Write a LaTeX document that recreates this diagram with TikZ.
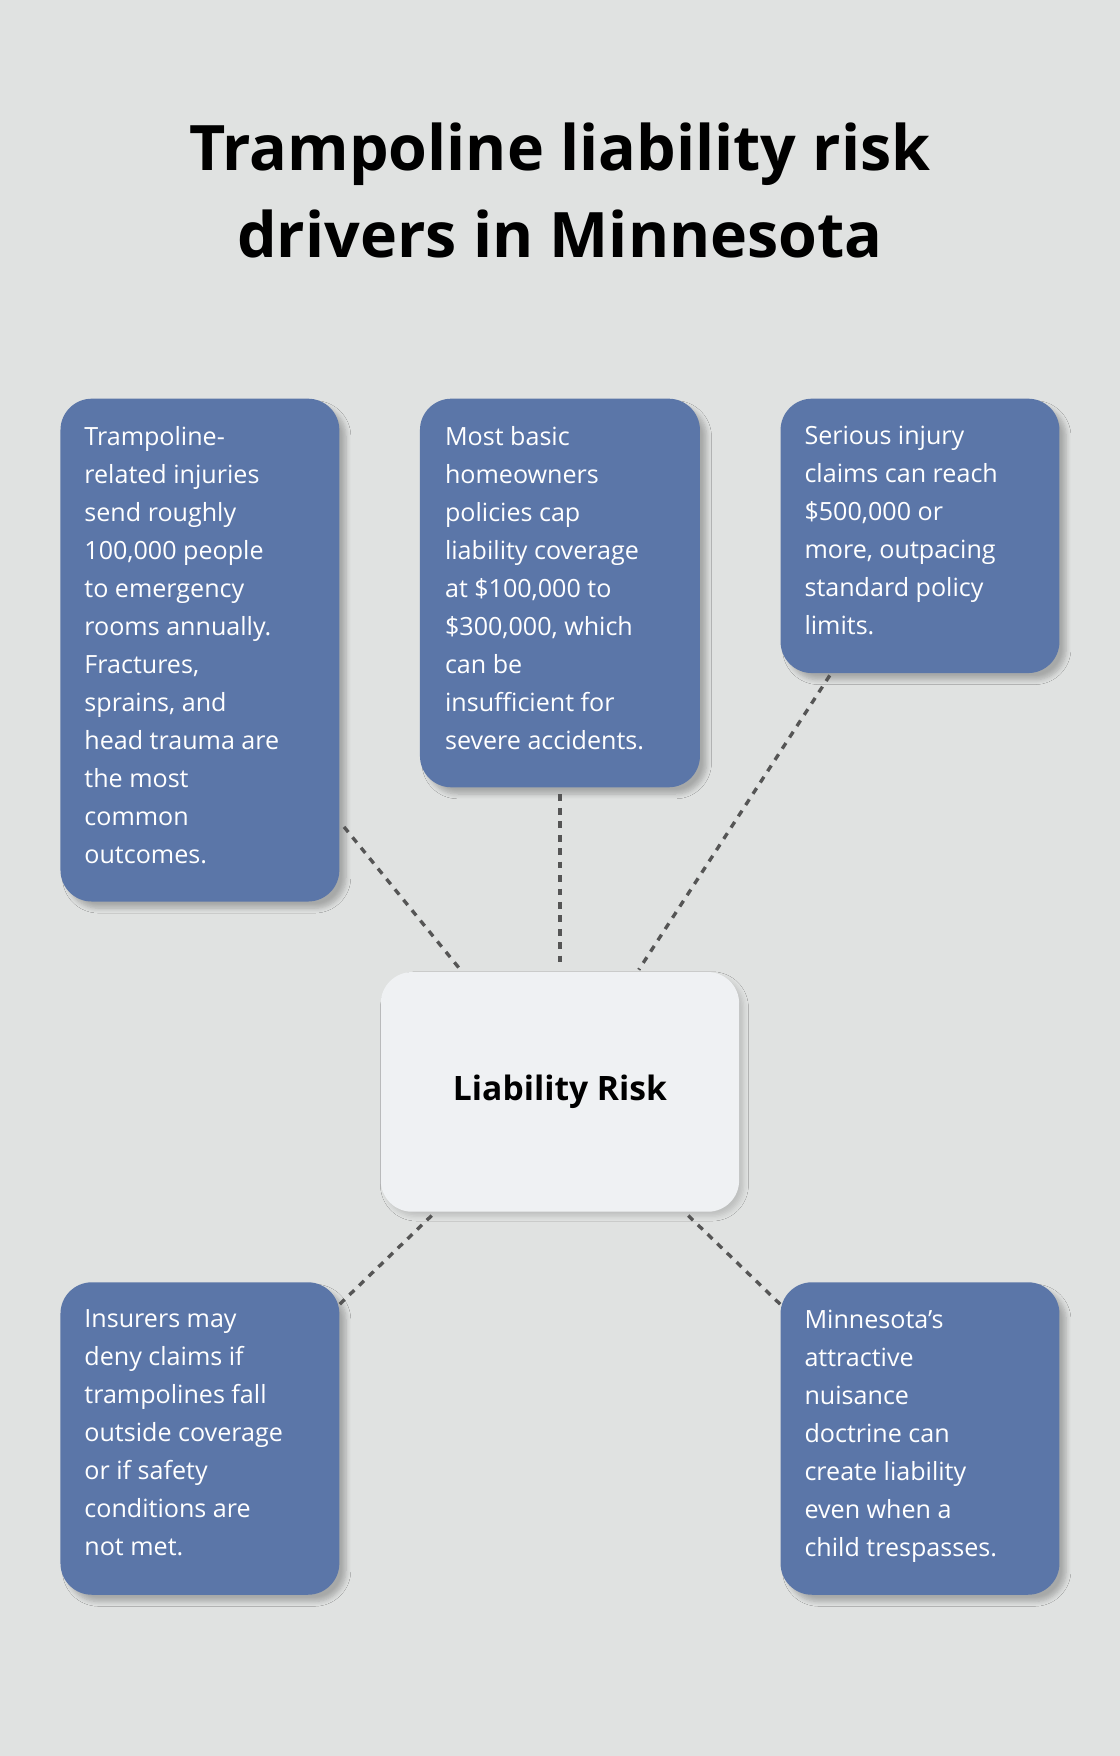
\documentclass[tikz,border=0pt]{standalone}
\usepackage{fontspec}
\setmainfont{Open Sans}
\usetikzlibrary{shadows.blur}
\definecolor{bg}{HTML}{E0E2E1}
\definecolor{boxc}{HTML}{5B76A8}
\definecolor{cbox}{HTML}{EFF1F3}
\definecolor{conn}{HTML}{555555}
\begin{document}
\begin{tikzpicture}[x=0.5pt,y=-0.5pt,
  box/.style={fill=boxc,rounded corners=14pt,draw=none,blur shadow={shadow xshift=3pt,shadow yshift=-3pt,shadow opacity=25,shadow blur steps=6}},
  txt/.style={anchor=north west,inner sep=0pt,align=left,text=white,font=\fontsize{11.2pt}{17pt}\selectfont},
  conn/.style={draw=conn,line width=1.5pt,dash pattern=on 3pt off 3pt}]
\fill[bg] (0,0) rectangle (1000,1568);
\useasboundingbox (0,0) rectangle (1000,1568);
\node[font=\fontsize{28pt}{39pt}\selectfont\bfseries,align=center] (title) at (500,170) {Trampoline liability risk\\drivers in Minnesota};
% boxes
\node[box,minimum width=124.5pt,minimum height=224.5pt] (b1) at (178.5,580.5) {};
\node[box,minimum width=125pt,minimum height=173.5pt] (b2) at (500,529.5) {};
\node[box,minimum width=124.5pt,minimum height=122.5pt] (b3) at (821.5,478.5) {};
\node[box,minimum width=124.5pt,minimum height=139.5pt] (b4) at (178.5,1284.5) {};
\node[box,minimum width=124.5pt,minimum height=139.5pt] (b5) at (821.5,1284.5) {};
\node[fill=cbox,rounded corners=14pt,minimum width=160pt,minimum height=107pt,blur shadow={shadow xshift=2pt,shadow yshift=-2pt,shadow opacity=15}] (c) at (500,975) {};
\node[font=\fontsize{15pt}{18pt}\selectfont\bfseries] (ct) at (500,975) {Liability Risk};
% connectors
\draw[conn,shorten <=3pt,shorten >=2pt] (b1) -- (c);
\draw[conn,shorten <=3pt,shorten >=3pt] (b2) -- (c);
\draw[conn,shorten <=1pt,shorten >=1pt] (b3) -- (c);
\draw[conn,shorten <=0pt,shorten >=0pt] (b4) -- (c);
\draw[conn,shorten <=0pt,shorten >=0pt] (b5) -- (c);
% texts
\node[txt] (t1) at (75,380) {Trampoline-\\related injuries\\send roughly\\100,000 people\\to emergency\\rooms annually.\\Fractures,\\sprains, and\\head trauma are\\the most\\common\\outcomes.};
\node[txt] (t2) at (397,380) {Most basic\\homeowners\\policies cap\\liability coverage\\at \$100,000 to\\\$300,000, which\\can be\\insufficient for\\severe accidents.};
\node[txt] (t3) at (718,380) {Serious injury\\claims can reach\\\$500,000 or\\more, outpacing\\standard policy\\limits.};
\node[txt] (t4) at (75,1169) {Insurers may\\deny claims if\\trampolines fall\\outside coverage\\or if safety\\conditions are\\not met.};
\node[txt] (t5) at (718,1169) {Minnesota’s\\attractive\\nuisance\\doctrine can\\create liability\\even when a\\child trespasses.};
\end{tikzpicture}
\end{document}
